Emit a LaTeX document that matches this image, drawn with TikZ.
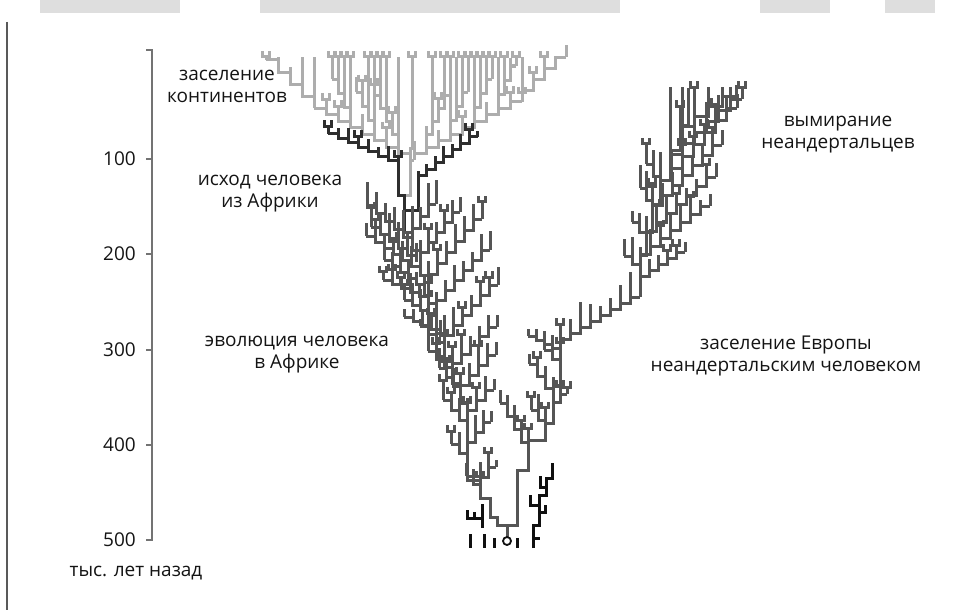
\documentclass[tikz,border=0pt]{standalone}
\usepackage{fontspec}
\setmainfont{Open Sans}
\definecolor{contc}{HTML}{ADADAD}
\definecolor{humc}{HTML}{555555}
\definecolor{exitc}{HTML}{2E2E2E}
\definecolor{blkc}{HTML}{101010}
\tikzset{
  br/.style={line width=3pt, line join=miter},
  contl/.style={br, draw=contc},
  huml/.style={br, draw=humc},
  exitl/.style={br, draw=exitc},
  blkl/.style={br, draw=blkc},
  axisl/.style={draw=black!55, line width=1.2pt},
  lbl/.style={font=\fontsize{19}{22}\selectfont, text=black!92, align=center, inner sep=0pt},
  ticklbl/.style={font=\fontsize{19}{22}\selectfont, text=black!92, anchor=east, inner sep=0pt},
}
\def\ytop{57}
\def\pf{0.4}
% comb: style, x0, y0, n, dx, dy(up), tipmin, tipvar, prob tip to \ytop
\newcommand\comb[9]{%
  \draw[#1] (#2,#3) \foreach \k in {1,...,#4}{ -- ++(0,-#6) -- ++(#5,0) };
  \pgfmathtruncatemacro\nn{#4+1}%
  \foreach \k in {1,...,\nn}{%
    \pgfmathsetmacro\cx{#2+(\k-1)*(#5)}%
    \pgfmathsetmacro\cy{#3-min(\k,#4)*(#6)}%
    \pgfmathsetmacro\ty{rnd<#9 ? \ytop : \cy-#7-rnd*#8}%
    \pgfmathsetmacro\fk{rnd}%
    \draw[#1] (\cx,\cy) -- (\cx,\ty);
    \ifdim\fk pt<\pf pt \draw[#1] ({\cx-3.5},{\ty-6}) -- ({\cx-3.5},\ty) -- ({\cx+3.5},\ty) -- ({\cx+3.5},{\ty-6});\fi
  }%
}
\begin{document}
\begin{tikzpicture}[x=1pt,y=-1pt]
\pgfmathsetseed{21}
\useasboundingbox (0,0) rectangle (979,610);
% scan artefacts
\fill[black!13] (40,0) rectangle (180,13);
\fill[black!13] (260,0) rectangle (620,13);
\fill[black!13] (760,0) rectangle (830,13);
\fill[black!13] (885,0) rectangle (935,13);
\draw[line width=2pt, black!65] (7,22) -- (7,610);
% axis
\draw[axisl] (146,50) -- (152,50) -- (152,540) -- (146,540);
\foreach \yy in {159,254,350,445} \draw[axisl] (146,\yy) -- (152,\yy);
\node[ticklbl] (l100) at (136,159) {100};
\node[ticklbl] (l200) at (136,254) {200};
\node[ticklbl] (l300) at (136,350) {300};
\node[ticklbl] (l400) at (136,445) {400};
\node[ticklbl] (l500) at (136,540) {500};
\node[lbl] (unit) at (136,573) {тыс. лет назад};
% labels
\node[lbl] (t1) at (227,86) {заселение\\континентов};
\node[lbl] (t2) at (270,194) {исход человека\\из Африки};
\node[lbl] (t3) at (297,355) {эволюция человека\\в Африке};
\node[lbl] (t4) at (838,135) {вымирание\\неандертальцев};
\node[lbl] (t5) at (786,356) {заселение Европы\\неандертальским человеком};
% ---------- continents (light)
\draw[contl] (404,195) -- (410,195) -- (410,160) -- (414,160);
\def\pf{0.35}
\comb{contl}{410}{160}{8}{-12}{6.5}{5}{9}{0}
\comb{contl}{314}{108}{4}{-12}{12}{5}{8}{0.8}
\comb{contl}{414}{160}{9}{12}{6.5}{5}{9}{0}
\comb{contl}{522}{101.5}{4}{11}{11}{5}{8}{0.8}
\def\pf{0.55}
\comb{contl}{398}{147}{4}{-6}{13}{6}{10}{0.7}
\comb{contl}{374}{134}{3}{-6}{14}{6}{10}{0.8}
\comb{contl}{350}{121}{3}{-6}{14}{6}{10}{0.8}
\comb{contl}{426}{147}{4}{6}{13}{6}{10}{0.7}
\comb{contl}{450}{134}{3}{6}{14}{6}{10}{0.8}
\comb{contl}{474}{121}{3}{6}{14}{6}{10}{0.8}
\comb{contl}{498}{108}{3}{6}{14}{6}{10}{0.8}
\comb{contl}{412}{150}{2}{0}{18}{6}{10}{0.5}
% ---------- exit from Africa (dark)
\def\pf{0.3}
\draw[exitl] (404,232) -- (404,195) -- (398,195) -- (398,165);
\comb{exitl}{398}{165}{7}{-10}{4.5}{4}{6}{0}
\draw[exitl] (404,210) -- (418,210) -- (418,182);
\comb{exitl}{418}{182}{7}{8.5}{6.5}{4}{6}{0}
% ---------- Africa
\def\pf{0.28}
\draw[huml] (507,537) -- (507,525) -- (497,525) -- (497,517) -- (490,517) -- (490,498) -- (480,498) -- (480,480) -- (467,480) -- (467,403) -- (460,403) -- (460,383) -- (452,383) -- (452,358) -- (444,358) -- (444,333) -- (436,333) -- (436,303) -- (428,303) -- (428,275) -- (420,275) -- (420,250) -- (412,250) -- (412,232) -- (404,232);
% up-left
\comb{huml}{412}{245}{5}{-9}{8}{8}{16}{0}
\comb{huml}{416}{262}{5}{-9}{7}{8}{14}{0}
\comb{huml}{420}{272}{6}{-9}{6}{6}{14}{0}
\comb{huml}{424}{290}{5}{-8}{6}{6}{12}{0}
\comb{huml}{428}{300}{5}{-9}{4}{5}{10}{0}
\comb{huml}{436}{320}{4}{-8}{5}{6}{12}{0}
\comb{huml}{440}{333}{4}{-9}{4}{5}{10}{0}
\comb{huml}{444}{350}{3}{-8}{8}{6}{14}{0}
\comb{huml}{452}{375}{3}{-8}{8}{6}{14}{0}
\comb{huml}{460}{395}{3}{-7}{9}{6}{14}{0}
\comb{huml}{467}{430}{3}{-8}{10}{6}{14}{0}
\comb{huml}{467}{462}{2}{-8}{9}{6}{10}{0}
\comb{huml}{480}{492}{2}{-7}{8}{5}{8}{0}
% up-right
\comb{huml}{412}{240}{3}{8}{12}{8}{16}{0}
\comb{huml}{420}{262}{5}{8}{10}{8}{14}{0}
\comb{huml}{428}{285}{6}{9}{11}{6}{14}{0}
\comb{huml}{436}{310}{6}{9}{10}{6}{14}{0}
\comb{huml}{444}{345}{6}{9}{10}{6}{14}{0}
\comb{huml}{452}{372}{5}{9}{9}{6}{14}{0}
\comb{huml}{460}{395}{4}{9}{10}{6}{14}{0}
\comb{huml}{467}{420}{3}{9}{10}{6}{12}{0}
\comb{huml}{467}{452}{3}{8}{10}{6}{12}{0}
\comb{huml}{480}{487}{2}{8}{10}{5}{10}{0}
% ---------- Neanderthals
\draw[huml] (507,525) -- (517,525) -- (517,470) -- (528,470) -- (528,440) -- (545,440) -- (545,423) -- (553,423) -- (553,385) -- (560,385) -- (560,345);
\comb{huml}{560}{345}{8}{10}{6}{8}{18}{0}
\comb{huml}{560}{352}{4}{-8}{4}{4}{8}{0}
\comb{huml}{528}{455}{4}{-7}{13}{6}{10}{0}
\comb{huml}{545}{430}{2}{-7}{10}{6}{10}{0}
\comb{huml}{553}{400}{3}{-8}{12}{6}{10}{0}
\comb{huml}{560}{368}{2}{-8}{9}{6}{10}{0}
\comb{huml}{553}{410}{2}{7}{8}{5}{8}{0}
\draw[huml] (640,297) -- (640,255) -- (646,255) -- (646,232) -- (652,232) -- (652,205) -- (660,205) -- (660,180) -- (670,180) -- (670,150) -- (680,150) -- (680,125) -- (688,125) -- (688,88);
\comb{huml}{640}{282}{5}{9}{6}{6}{10}{0}
\comb{huml}{640}{262}{7}{10}{8}{6}{12}{0}
\comb{huml}{646}{240}{7}{10}{9}{6}{12}{0}
\comb{huml}{652}{215}{7}{10}{10}{6}{14}{0}
\comb{huml}{640}{272}{2}{-8}{8}{8}{14}{0}
\comb{huml}{646}{242}{2}{-7}{10}{8}{14}{0}
\comb{huml}{652}{212}{2}{-6}{12}{8}{16}{0}
\comb{huml}{660}{188}{2}{-7}{12}{8}{16}{0}
\def\ytop{87}
\comb{huml}{660}{192}{7}{11}{12}{6}{14}{0}
\comb{huml}{670}{165}{6}{12}{11}{8}{16}{0.4}
\comb{huml}{680}{136}{4}{14}{10}{8}{16}{0.8}
% ---------- black lineages at the bottom
\draw[blkl] (467,510) -- (467,518) -- (482,518);
\draw[blkl] (474,512) -- (474,518);
\draw[blkl] (482,504) -- (482,528);
\draw[blkl] (470,534) -- (470,548);
\draw[blkl] (484,534) -- (484,548);
\draw[blkl] (494,538) -- (494,548);
\draw[blkl] (517,538) -- (517,548);
\draw[blkc, line width=1.8pt] (507,541) circle (4);
\draw[blkl] (533,548) -- (533,525) -- (539,525) -- (539,495) -- (546,495) -- (546,478) -- (552,478) -- (552,463);
\draw[blkl] (533,538) -- (540,538);
\draw[blkl] (539,512) -- (545,512) -- (545,505);
\draw[blkl] (539,505) -- (530,505) -- (530,495);
\draw[blkl] (546,487) -- (540,487) -- (540,476);
\end{tikzpicture}
\end{document}
